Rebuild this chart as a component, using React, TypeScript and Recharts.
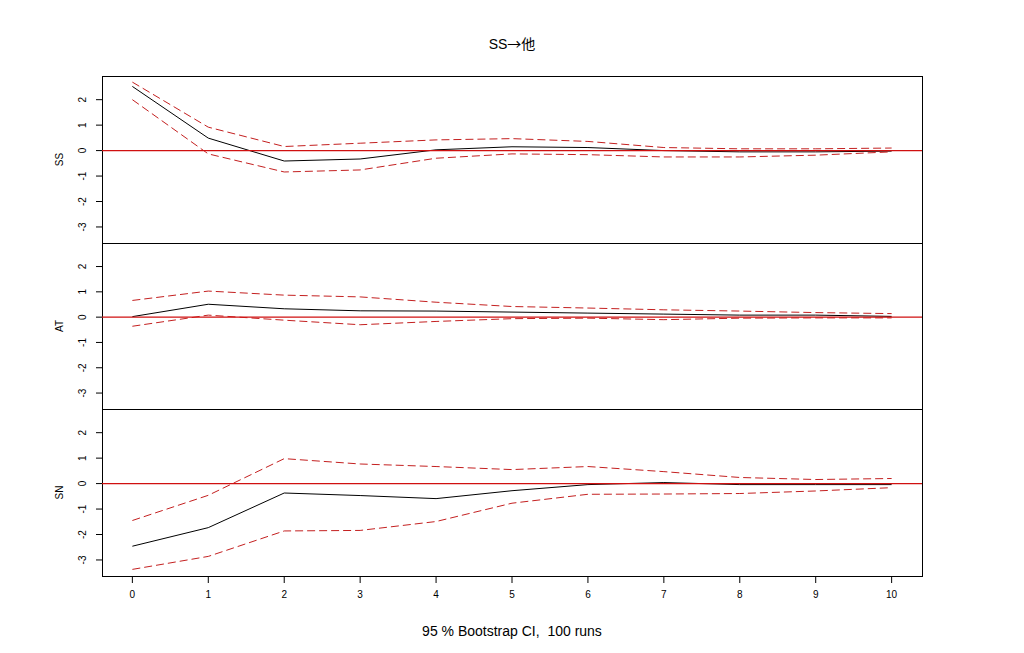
import React from "react";
import {
  LineChart,
  Line,
  XAxis,
  YAxis,
  ReferenceLine,
  ReferenceArea,
  Label,
} from "recharts";

// ---- data ----
const steps = [0, 1, 2, 3, 4, 5, 6, 7, 8, 9, 10];
const yTicks = [-3, -2, -1, 0, 1, 2];
const xTicks = [0, 1, 2, 3, 4, 5, 6, 7, 8, 9, 10];
const yDomain: [number, number] = [-3.63, 2.93];
const xDomain: [number, number] = [-0.4, 10.4];

const titleLeft = "SS";
const titleArrow = "→";
const titleRight = "他";
const footer = "95 % Bootstrap CI,  100 runs";

const ssEst = [2.52, 0.49, -0.41, -0.33, 0.03, 0.15, 0.12, 0.0, -0.05, -0.05, -0.02];
const ssUpper = [2.69, 0.92, 0.16, 0.29, 0.42, 0.47, 0.36, 0.12, 0.07, 0.07, 0.1];
const ssLower = [2.0, -0.13, -0.84, -0.76, -0.3, -0.13, -0.16, -0.25, -0.25, -0.18, -0.05];

const atEst = [0.02, 0.51, 0.33, 0.25, 0.24, 0.2, 0.16, 0.12, 0.08, 0.08, 0.03];
const atUpper = [0.66, 1.03, 0.87, 0.8, 0.59, 0.42, 0.36, 0.29, 0.24, 0.18, 0.14];
const atLower = [-0.36, 0.08, -0.12, -0.3, -0.17, -0.06, -0.04, -0.1, -0.04, -0.03, -0.03];

const snEst = [-2.46, -1.73, -0.37, -0.47, -0.59, -0.28, -0.04, 0.04, -0.04, -0.04, -0.04];
const snUpper = [-1.45, -0.46, 0.98, 0.77, 0.67, 0.55, 0.67, 0.47, 0.24, 0.16, 0.2];
const snLower = [-3.37, -2.86, -1.86, -1.84, -1.49, -0.77, -0.42, -0.41, -0.39, -0.29, -0.16];

const build = (est: number[], up: number[], lo: number[]) =>
  steps.map((s, i) => ({ step: s, est: est[i], upper: up[i], lower: lo[i] }));

const panels = [
  { name: "SS", data: build(ssEst, ssUpper, ssLower) },
  { name: "AT", data: build(atEst, atUpper, atLower) },
  { name: "SN", data: build(snEst, snUpper, snLower) },
];

// ---- layout ----
const W = 1024;
const H = 653;
const FONT = "'Liberation Sans', Arial, 'Noto Sans CJK SC', sans-serif";
const CJK = "'Noto Sans CJK SC', 'Liberation Sans', sans-serif";
const panelTops = [76, 243, 409];
const panelBottoms = [243, 409, 576];
const DASH_RED = "#c42020";
const ZERO_RED = "#d01010";

const YTick = (props: any) => {
  const { x, y, payload } = props;
  return (
    <text
      x={x}
      y={y}
      transform={`rotate(-90 ${x} ${y})`}
      textAnchor="middle"
      dominantBaseline="central"
      fontSize={10}
      fontFamily={FONT}
      fill="#000"
    >
      {payload.value}
    </text>
  );
};

const Panel = ({ idx }: { idx: number }) => {
  const p = panels[idx];
  const last = idx === 2;
  const xAxisH = 30;
  const top = panelTops[idx];
  const bottom = H - panelBottoms[idx] - (last ? xAxisH : 0);
  return (
    <div style={{ position: "absolute", left: 0, top: 0 }}>
      <LineChart
        width={W}
        height={H}
        data={p.data}
        margin={{ top, right: W - 922, left: 0, bottom }}
      >
        <XAxis
          dataKey="step"
          type="number"
          domain={xDomain}
          ticks={xTicks}
          allowDataOverflow
          hide={!last}
          height={xAxisH}
          axisLine={false}
          tickLine={{ stroke: "#000" }}
          tickSize={7}
          tickMargin={8}
          tick={{ fontSize: 10, fill: "#000", fontFamily: FONT }}
          interval={0}
        />
        <YAxis
          type="number"
          domain={yDomain}
          ticks={yTicks}
          allowDataOverflow
          width={102}
          axisLine={false}
          tickLine={{ stroke: "#000" }}
          tickSize={6}
          tickMargin={13}
          tick={<YTick />}
          interval={0}
        >
          <Label
            content={(lp: any) => {
              const vb = lp.viewBox || {};
              const cy = vb.y + vb.height / 2;
              return (
                <text
                  x={59}
                  y={cy}
                  transform={`rotate(-90 59 ${cy})`}
                  textAnchor="middle"
                  dominantBaseline="central"
                  fontSize={10}
                  fontFamily={FONT}
                  fill="#000"
                >
                  {p.name}
                </text>
              );
            }}
          />
        </YAxis>
        <ReferenceArea
          x1={xDomain[0]}
          x2={xDomain[1]}
          y1={yDomain[0]}
          y2={yDomain[1]}
          fill="none"
          fillOpacity={0}
          stroke="#000"
          strokeWidth={1}
          shapeRendering="crispEdges"
          ifOverflow="visible"
        />
        <Line
          type="linear"
          dataKey="est"
          stroke="#000"
          strokeWidth={1}
          dot={false}
          activeDot={false}
          isAnimationActive={false}
        />
        <Line
          type="linear"
          dataKey="upper"
          stroke={DASH_RED}
          strokeWidth={1}
          strokeDasharray="8 4"
          dot={false}
          activeDot={false}
          isAnimationActive={false}
        />
        <Line
          type="linear"
          dataKey="lower"
          stroke={DASH_RED}
          strokeWidth={1}
          strokeDasharray="8 4"
          dot={false}
          activeDot={false}
          isAnimationActive={false}
        />
        <ReferenceLine y={0} stroke={ZERO_RED} strokeWidth={1.2} />
      </LineChart>
    </div>
  );
};

export default function App() {
  return (
    <div
      style={{
        position: "absolute",
        left: 0,
        top: 0,
        width: W,
        height: H,
        background: "#fff",
        fontFamily: FONT,
      }}
    >
      <Panel idx={0} />
      <Panel idx={1} />
      <Panel idx={2} />
      <div
        style={{
          position: "absolute",
          left: 0,
          width: W,
          top: 34,
          textAlign: "center",
          fontSize: 14,
          lineHeight: "18px",
          color: "#000",
          whiteSpace: "pre",
        }}
      >
        {titleLeft}
        <span style={{ fontFamily: CJK }}>{titleArrow}</span>
        <span style={{ fontFamily: CJK }}>{titleRight}</span>
      </div>
      <div
        style={{
          position: "absolute",
          left: 0,
          width: W,
          top: 622,
          textAlign: "center",
          fontSize: 14,
          lineHeight: "18px",
          color: "#000",
          whiteSpace: "pre",
        }}
      >
        {footer}
      </div>
    </div>
  );
}
